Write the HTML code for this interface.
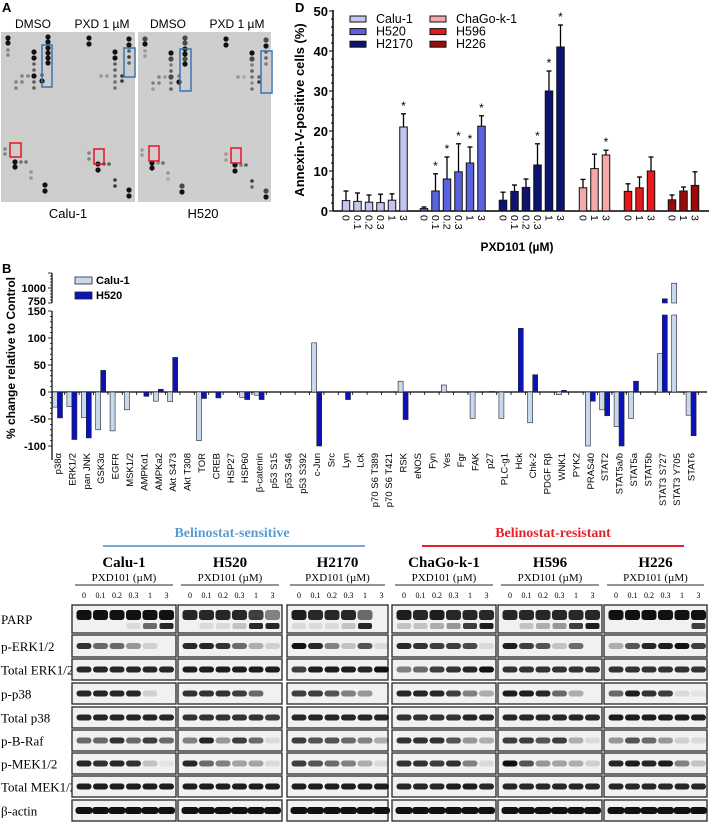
<!DOCTYPE html>
<html><head><meta charset="utf-8"><style>
html,body{margin:0;padding:0;background:#fff;}
svg{display:block;font-family:"Liberation Sans",sans-serif;}
</style></head><body>
<svg id="fig" width="709" height="822" viewBox="0 0 709 822">
<g id="panelA">
 <text x="2" y="12" font-size="13" font-weight="bold">A</text>
 <text x="33" y="28" font-size="12" text-anchor="middle">DMSO</text>
 <text x="102" y="28" font-size="12" text-anchor="middle">PXD 1 µM</text>
 <text x="168" y="28" font-size="12" text-anchor="middle">DMSO</text>
 <text x="237" y="28" font-size="12" text-anchor="middle">PXD 1 µM</text>
 <rect x="1" y="32" width="134" height="170" fill="#cdcdcd"/>
 <rect x="138" y="32" width="133" height="170" fill="#cecece"/>
 <g id="dotsA"></g>
 <rect x="42" y="45" width="10" height="42" fill="none" stroke="#3b73b0" stroke-width="1.5"/>
 <rect x="124" y="48" width="11" height="29" fill="none" stroke="#3b73b0" stroke-width="1.5"/>
 <rect x="180" y="49" width="11" height="42" fill="none" stroke="#3b73b0" stroke-width="1.5"/>
 <rect x="261" y="51" width="11" height="42" fill="none" stroke="#3b73b0" stroke-width="1.5"/>
 <rect x="10" y="143" width="11" height="14" fill="none" stroke="#e8141e" stroke-width="1.5"/>
 <rect x="94" y="149" width="10" height="15" fill="none" stroke="#e8141e" stroke-width="1.5"/>
 <rect x="149" y="146" width="10" height="15" fill="none" stroke="#e8141e" stroke-width="1.5"/>
 <rect x="231" y="148" width="10" height="15" fill="none" stroke="#e8141e" stroke-width="1.5"/>
 <text x="68" y="218" font-size="13" text-anchor="middle">Calu-1</text>
 <text x="203" y="218" font-size="13" text-anchor="middle">H520</text>
</g>
<g id="panelD"></g>
<g id="panelB"></g>
<g id="panelC"></g>
</svg>
<script>
// ---------- Panel D data ----------
const dGroups = ["Calu-1","H520","H2170","ChaGo-k-1","H596","H226"];
const dColors = ["#c3c6f0","#5a62e0","#0c1470","#f4a8a8","#e81818","#9a0c0c"];
const dDoses = [["0","0.1","0.2","0.3","1","3"],["0","0.1","0.2","0.3","1","3"],["0","0.1","0.2","0.3","1","3"],["0","1","3"],["0","1","3"],["0","1","3"]];
const dMeans = [[2.6,2.4,2.2,2.1,2.7,21],[0.6,5,8,9.8,12,21.2],[2.7,4.9,5.9,11.5,30,41],[5.8,10.6,14],[4.9,5.8,10],[2.8,5,6.4]];
const dErr = [[2.4,2.1,1.8,2.1,1.6,3.3],[0.4,4.3,5.5,7,4,2.6],[2,1.6,2.1,5.3,5,5.5],[2.1,3.6,1.2],[1.9,2.7,3.5],[1.2,1,3.4]];
const dSig = [[0,0,0,0,0,1],[0,1,1,1,1,1],[0,0,0,1,1,1],[0,0,1],[0,0,0],[0,0,0]];
const dYTicks = [0,10,20,30,40,50];
const dGroupStart = [346,424,503,583,628,672];
// ---------- Panel B data ----------
const bCats = ["p38\u03b1","ERK1/2","pan JNK","GSK3\u03b1","EGFR","MSK1/2","AMPK\u03b11","AMPKa2","Akt S473","Akt T308","TOR","CREB","HSP27","HSP60","\u03b2-catenin","p53 S15","p53 S46","p53 S392","c-Jun","Src","Lyn","Lck","p70 S6 T389","p70 S6 T421","RSK","eNOS","Fyn","Yes","Fgr","FAK","p27","PLC-g1","Hck","Chk-2","PDGF R\u03b2","WNK1","PYK2","PRAS40","STAT2","STAT5a/b","STAT5a","STAT5b","STAT3 S727","STAT3 Y705","STAT6"];
const bCalu = [-28,-27,-47,-70,-72,-33,0,-17,-18,0,-90,0,0,-10,-6,0,0,0,91,0,0,0,0,0,20,0,0,13,0,-49,1,-49,0,-57,0,-5,0,-100,-33,-64,-49,0,71,1080,-43];
const bH520 = [-48,-88,-85,40,0,0,-8,5,64,0,-12,-11,0,-14,-14,0,0,0,-100,0,-14,0,0,0,-51,0,0,0,0,0,1,0,118,32,0,3,0,-17,-44,-100,20,0,820,0,-81];
const bLowTicks = [-100,-50,0,50,100,150];
const bHighTicks = [750,1000];
// ---------- Panel C data ----------
const cLines = ["Calu-1","H520","H2170","ChaGo-k-1","H596","H226"];
const cDoses = ["0","0.1","0.2","0.3","1","3"];
const cRows = ["PARP","p-ERK1/2","Total ERK1/2","p-p38","Total p38","p-B-Raf","p-MEK1/2","Total MEK1/2","\u03b2-actin"];
const cParpCleaved = [[0,0,0,.1,.6,.9],[0,.1,.1,.2,.9,.9],[.1,.1,.1,.2,.9,1],[.2,.2,.3,.4,.8,.95],[0,.2,.3,.4,.8,.95],[0,0,0,0,0,.8]];
const cBands = [
 [[1,1,1,1,1,1],[.9,.9,.9,.9,.8,.5],[.95,.9,.9,.9,.6,0],[.95,.9,.95,.9,.9,.9],[.9,.9,.9,.9,.9,.9],[1,1,1,1,1,1]],
 [[.85,.6,.6,.4,.15,0],[.9,.9,.85,.6,.3,.15],[1,.9,.5,.2,.7,.1],[.9,.85,.8,.8,.75,.1],[.95,.8,.7,.2,.6,0],[.3,.7,.9,.95,1,.8]],
 [[.9,.9,.9,.9,.9,.9],[.95,.95,.95,.95,.95,.95],[.8,.95,.95,.95,.9,1],[.5,.6,.8,.85,.9,1],[.85,.85,.85,.85,.85,.85],[.85,.85,.85,.85,.85,.85]],
 [[.9,.9,.9,.9,.15,0],[.85,.85,.85,.8,.6,0],[.8,.8,.7,.5,.4,0],[.9,.9,.9,.8,.5,.3],[.95,.95,.9,.6,.3,0],[.6,.95,.85,.8,.1,.05]],
 [[.9,.9,.9,.9,.9,.9],[.85,.85,.85,.85,.85,.8],[.9,.9,.9,.9,.9,.9],[.85,.85,.85,.85,.9,.9],[.9,.9,.9,.9,.9,.9],[.95,.95,.95,.95,.95,.95]],
 [[.6,.6,.85,.6,.8,.6],[.5,.9,.4,.8,.6,.1],[.8,.7,.7,.6,.5,.3],[.85,.85,.85,.7,.4,.3],[.8,.8,.7,.8,.3,.1],[.4,.7,.6,.4,.15,.1]],
 [[.9,.85,.9,.85,.2,.05],[.9,.6,.5,.35,.35,.1],[.8,.7,.6,.5,.3,.1],[.85,.85,.8,.85,.5,.1],[1,.7,.4,.35,.3,.15],[.9,.95,.9,.95,.5,.2]],
 [[.95,.95,.95,.95,.95,.95],[.95,.95,.95,.95,.95,.95],[.95,.95,.95,.95,.95,.95],[.9,.9,.9,.95,.95,.9],[.9,.9,.9,.9,.9,.9],[.9,.9,.9,.9,.9,.9]],
 [[1,1,1,1,1,1],[1,1,1,1,1,1],[1,1,1,1,1,1],[1,1,1,1,1,1],[1,1,1,1,1,1],[1,1,1,1,1,1]]
];
const aDots = [[7,38,1],[7,43,1],[47,37,1],[47,42,1],[47,48,1],[47,53,1],[47,58,1],[47,63,1],[33,52,1],[33,58,1],[33,64,.6],[33,70,.6],[33,76,1],[33,82,.6],[33,88,.6],[21,76,.4],[27,76,.4],[15,82,.4],[21,82,.4],[15,88,.4],[41,75,.6],[41,81,1],[7,50,.4],[7,55,.4],[88,38,1],[88,44,1],[128,39,1],[128,45,1],[128,51,.6],[128,57,.8],[128,63,.6],[114,52,1],[114,58,1],[114,64,.6],[114,70,.6],[114,76,.5],[114,82,.5],[114,88,.5],[100,76,.3],[106,76,.3],[121,76,.8],[121,81,.8],[4,149,.4],[4,154,.4],[14,162,1],[14,167,1],[20,162,.5],[25,162,.5],[30,172,.3],[30,178,.3],[44,185,1],[44,191,1],[88,153,.4],[88,159,.4],[97,164,1],[97,170,1],[103,164,.6],[108,164,.6],[114,180,.8],[114,186,.8],[128,190,1],[128,196,1]];

const NS="http://www.w3.org/2000/svg";
function mk(parent,tag,attrs,text){const e=document.createElementNS(NS,tag);for(const k in attrs)e.setAttribute(k,attrs[k]);if(text!==undefined)e.textContent=text;parent.appendChild(e);return e;}

// ---- Panel A dots ----
const dotsA=document.getElementById('dotsA');
[0,137].forEach((off,img)=>{aDots.forEach((d,i)=>{
  const op = img===0? d[2] : (d[2]*((i*37)%10<5?0.7:1));
  const c=mk(dotsA,'circle',{cx:1+off+d[0],cy:d[1]+(img?1:0),r:d[2]>0.9?2.6:1.8,fill:'#111','fill-opacity':op});
  
  
});});

// ---- Panel D ----
(function(){
 const g=document.getElementById('panelD');
 const x0=333, yBase=211, pxPer=4.0, bw=7.5, step=11.5;
 const ys=v=>yBase-v*pxPer;
 let t=mk(g,'text',{x:295,y:12,'font-size':13,'font-weight':'bold'},'D');
 
 
 let ax=mk(g,'line',{x1:x0,y1:ys(50)-1,x2:x0,y2:yBase,stroke:'#000','stroke-width':1.5});
 
 
 ax=mk(g,'line',{x1:x0,y1:yBase,x2:709,y2:yBase,stroke:'#000','stroke-width':1.5});
 
 
 for(let v=0;v<=50;v+=2){const tk=mk(g,'line',{x1:x0-(v%10===0?4:2),y1:ys(v),x2:x0,y2:ys(v),stroke:'#000','stroke-width':1});
  
  }
 dYTicks.forEach(v=>{const l=mk(g,'text',{x:328,y:ys(v)+5,'font-size':13,'font-weight':'bold','text-anchor':'end'},String(v));
  
  });
 const yl=mk(g,'text',{x:0,y:0,'font-size':13,'font-weight':'bold','text-anchor':'middle',transform:'translate(304,110) rotate(-90)'},'Annexin-V-positive cells (%)');
 
 
 dGroups.forEach((gn,gi)=>{
  dMeans[gi].forEach((v,i)=>{
   const cx=dGroupStart[gi]+i*step;
   const top=ys(v+dErr[gi][i]);
   const e=mk(g,'line',{x1:cx,y1:top,x2:cx,y2:ys(v),stroke:'#000','stroke-width':1.3});
   
   
   const cap=mk(g,'line',{x1:cx-2.5,y1:top,x2:cx+2.5,y2:top,stroke:'#000','stroke-width':1.3});
   
   
   const b=mk(g,'rect',{x:cx-bw/2,y:ys(v),width:bw,height:yBase-ys(v),fill:dColors[gi],stroke:'#111','stroke-width':1});
   
   
   if(dSig[gi][i]){const s=mk(g,'text',{x:cx,y:top-4,'font-size':12,'text-anchor':'middle'},'*');
    
    }
   const tl=mk(g,'text',{x:0,y:0,'font-size':10.5,transform:`translate(${cx-3.5},215) rotate(90)`},dDoses[gi][i]);
   
   
  });
 });
 const xt=mk(g,'text',{x:517,y:251,'font-size':12,'font-weight':'bold','text-anchor':'middle'},'PXD101  (\u00b5M)');
 
 
 dGroups.forEach((gn,gi)=>{
  const col=gi<3?0:1, row=gi%3;
  const lx=col?430:350, ly=16+row*12.6;
  const r=mk(g,'rect',{x:lx,y:ly,width:16,height:6,fill:dColors[gi],stroke:'#111','stroke-width':1});
  
  
  const tx=mk(g,'text',{x:lx+26,y:ly+7,'font-size':12.5},gn);
  
  
 });
})();

// ---- Panel B ----
(function(){
 const g=document.getElementById('panelB');
 const x0=52, yZero=392, k=0.54, yHiBase=303, kHi=0.06;
 const ysLow=v=>yZero-v*k;
 const ysHi=v=>yHiBase-(v-750)*kHi;
 const xc=i=>57.5+i*14.4;
 let t=mk(g,'text',{x:2,y:273,'font-size':13,'font-weight':'bold'},'B');
 
 
 let a=mk(g,'line',{x1:x0,y1:ysLow(150),x2:x0,y2:ysLow(-100)+14,stroke:'#000','stroke-width':1.2});
 
 
 a=mk(g,'line',{x1:x0,y1:ysHi(1250),x2:x0,y2:ysHi(750),stroke:'#000','stroke-width':1.2});
 
 
 for(let v=-100;v<=150;v+=10){const tk=mk(g,'line',{x1:x0-(v%50===0?4:2),y1:ysLow(v),x2:x0,y2:ysLow(v),stroke:'#000','stroke-width':0.8});
  
  }
 for(let v=750;v<=1250;v+=50){const tk=mk(g,'line',{x1:x0-(v%250===0?4:2),y1:ysHi(v),x2:x0,y2:ysHi(v),stroke:'#000','stroke-width':0.8});
  
  }
 bLowTicks.forEach(v=>{const l=mk(g,'text',{x:46,y:ysLow(v)+4,'font-size':11,'font-weight':'bold','text-anchor':'end'},String(v));
  
  });
 bHighTicks.forEach(v=>{const l=mk(g,'text',{x:46,y:ysHi(v)+(v===750?2:4),'font-size':11,'font-weight':'bold','text-anchor':'end'},String(v));
  
  });
 const yl=mk(g,'text',{x:0,y:0,'font-size':12,'font-weight':'bold','text-anchor':'middle',transform:'translate(15,358) rotate(-90)'},'% change relative to Control');
 
 
 const zl=mk(g,'line',{x1:x0,y1:yZero,x2:707,y2:yZero,stroke:'#000','stroke-width':1.2});
 
 
 const bw=5;
 function bar(i,v,off,fill,name){
  if(v===0)return;
  const x=xc(i)+off;
  if(v<=150){
   const y1=Math.min(ysLow(v),yZero), h=Math.abs(ysLow(v)-yZero);
   const r=mk(g,'rect',{x:x,y:y1,width:bw,height:Math.max(h,0.8),fill:fill,stroke:'#223','stroke-width':0.6});
   
   
  } else {
   const r=mk(g,'rect',{x:x,y:ysLow(150)+4,width:bw,height:yZero-ysLow(150)-4,fill:fill,stroke:'#223','stroke-width':0.6});
   
   
   const r2=mk(g,'rect',{x:x,y:ysHi(v),width:bw,height:ysHi(750)-ysHi(v),fill:fill,stroke:'#223','stroke-width':0.6});
   
   
  }
 }
 bCats.forEach((c,i)=>{
  bar(i,bCalu[i],-bw,'#c9d9ec','b-bar-calu1-'+i);
  bar(i,bH520[i],0,'#0c12b8','b-bar-h520-'+i);
  const tk=mk(g,'line',{x1:xc(i)+7.2,y1:yZero,x2:xc(i)+7.2,y2:yZero+3,stroke:'#000','stroke-width':0.8});
  
  
  const l=mk(g,'text',{x:0,y:0,'font-size':9.5,'text-anchor':'end',transform:`translate(${xc(i)+3.5},453) rotate(-90)`},c);
  
  
 });
 [['Calu-1','#c9d9ec',283],['H520','#0c12b8',298]].forEach(e=>{
  const r=mk(g,'rect',{x:75,y:e[2]-6,width:17,height:7,fill:e[1],stroke:'#223','stroke-width':0.8});
  
  
  const tx=mk(g,'text',{x:96,y:e[2]+1,'font-size':11,'font-weight':'bold'},e[0]);
  
  
 });
})();

// ---- Panel C ----
(function(){
 const g=document.getElementById('panelC');
 const px=[72,178,287,392,498,604], pw=[104,104,101,104,104,103];
 const rowY=[[605,633],[635,657],[659,680],[683,704],[707,728],[730,751],[753,774],[776,797],[800,821]];
 let t=mk(g,'text',{x:232,y:537,'font-size':14,'font-weight':'bold',fill:'#5b9bd5','text-anchor':'middle','font-family':'Liberation Serif'},'Belinostat-sensitive');
 
 
 t=mk(g,'line',{x1:103,y1:546,x2:365,y2:546,stroke:'#7aa7d6','stroke-width':2});
 
 
 t=mk(g,'text',{x:553,y:537,'font-size':14,'font-weight':'bold',fill:'#e8202a','text-anchor':'middle','font-family':'Liberation Serif'},'Belinostat-resistant');
 
 
 t=mk(g,'line',{x1:422,y1:546,x2:684,y2:546,stroke:'#e8202a','stroke-width':2});
 
 
 cRows.forEach((r,ri)=>{
  const l=mk(g,'text',{x:1,y:(rowY[ri][0]+rowY[ri][1])/2+5,'font-size':13,'font-family':'Liberation Serif'},r);
  
  
 });
 cLines.forEach((cl,pi)=>{
  const x=px[pi], w=pw[pi], cx=x+w/2;
  const h=mk(g,'text',{x:cx,y:567,'font-size':15,'font-weight':'bold','text-anchor':'middle','font-family':'Liberation Serif'},cl);
  
  
  const s=mk(g,'text',{x:cx,y:581,'font-size':11,'text-anchor':'middle','font-family':'Liberation Serif'},'PXD101 (\u00b5M)');
  
  
  const u=mk(g,'line',{x1:x+3,y1:585,x2:x+w-3,y2:585,stroke:'#555','stroke-width':1.2});
  
  
  cDoses.forEach((d,li)=>{
   const dl=mk(g,'text',{x:x+12+li*16.5,y:598,'font-size':8,'text-anchor':'middle','font-family':'Liberation Serif'},d);
   
   
  });
  cRows.forEach((r,ri)=>{
   const y0=rowY[ri][0], y1=rowY[ri][1];
   const box=mk(g,'rect',{x:x,y:y0,width:w,height:y1-y0,fill:'#f1f1f1',stroke:'#333','stroke-width':1.4});
   
   
   const th = ri===0?10: (ri===8?7:6);
   const by = ri===0? y0+5 : (y0+y1)/2-th/2;
   cDoses.forEach((d,li)=>{
    const op=cBands[ri][pi][li];
    if(op<=0)return;
    const lx=x+12+li*16.5;
    const bwid = ri===8?17:15;
    const b=mk(g,'rect',{x:lx-bwid/2,y:by,width:bwid,height:th,rx:3,fill:'#111','fill-opacity':op});
    
    
    if(ri===0){const c=cParpCleaved[pi][li]; if(c>0){
     const b2=mk(g,'rect',{x:lx-7,y:y0+18,width:14,height:6,rx:2,fill:'#111','fill-opacity':c});
     
     }}
   });
  });
 });
})();
</script>
</body></html>
